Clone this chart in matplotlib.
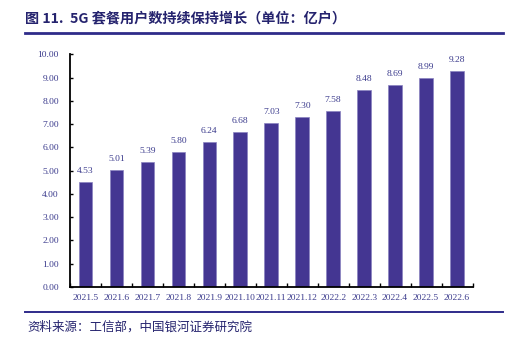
import matplotlib.pyplot as plt
import numpy as np

months = ["2021.5", "2021.6", "2021.7", "2021.8", "2021.9", "2021.10", "2021.11",
          "2021.12", "2022.2", "2022.3", "2022.4", "2022.5", "2022.6"]
users = [4.53, 5.01, 5.39, 5.80, 6.24, 6.68, 7.03, 7.30, 7.58, 8.48, 8.69, 8.99, 9.28]
yticks = np.arange(0, 11, 1)

bar_color = "#443692"
text_color = "#3a3a8c"
num_font = "Liberation Serif"
cjk = ["Noto Sans CJK SC", "DejaVu Sans"]

fig = plt.figure(figsize=(5.16, 3.4), dpi=100)
ax = fig.add_axes([70 / 516, 1 - 287 / 340, 402.5 / 516, (287 - 54.3) / 340])

x = np.arange(len(months))
ax.bar(x, users, width=0.44, color=bar_color, edgecolor="#8a82c0", linewidth=0.5)
for xi, v in zip(x, users):
    ax.text(xi, v + 0.3, "%.2f" % v, ha="center", va="bottom",
            fontsize=6.8, color=text_color, family=num_font)

ax.set_xlim(-0.5, len(months) - 0.5)
ax.set_ylim(0, 10)
ax.set_yticks(yticks)
ax.set_yticklabels(["%.2f" % t for t in yticks], family=num_font, fontsize=6.8, color=text_color)
ax.set_xticks(x)
ax.set_xticklabels(months, family=num_font, fontsize=6.8, color=text_color)
ax.set_xticks(np.arange(-0.5, len(months), 1), minor=True)
ax.tick_params(axis="x", which="major", length=0, pad=5)
ax.tick_params(axis="x", which="minor", direction="in", length=3, width=1)
ax.tick_params(axis="y", direction="in", length=2.5, width=1, pad=8)

for s in ["top", "right"]:
    ax.spines[s].set_visible(False)
for s in ["left", "bottom"]:
    ax.spines[s].set_linewidth(1.3)

fig.text(25 / 516, 1 - 18 / 340, "图 11.  5G 套餐用户数持续保持增长（单位：亿户）",
         family=cjk, fontsize=10.2, fontweight="bold", color="#25236e", va="center")
fig.add_artist(plt.Line2D([25 / 516, 503 / 516], [1 - 33 / 340] * 2, color="#2f2b8a", lw=2))
fig.add_artist(plt.Line2D([25 / 516, 503 / 516], [1 - 312 / 340] * 2, color="#2f2b8a", lw=1.4))
fig.text(27 / 516, 1 - 327 / 340, "资料来源：工信部，中国银河证券研究院",
         family=cjk, fontsize=9, color="#25236e", va="center")

fig.savefig("out.png", dpi=100)
